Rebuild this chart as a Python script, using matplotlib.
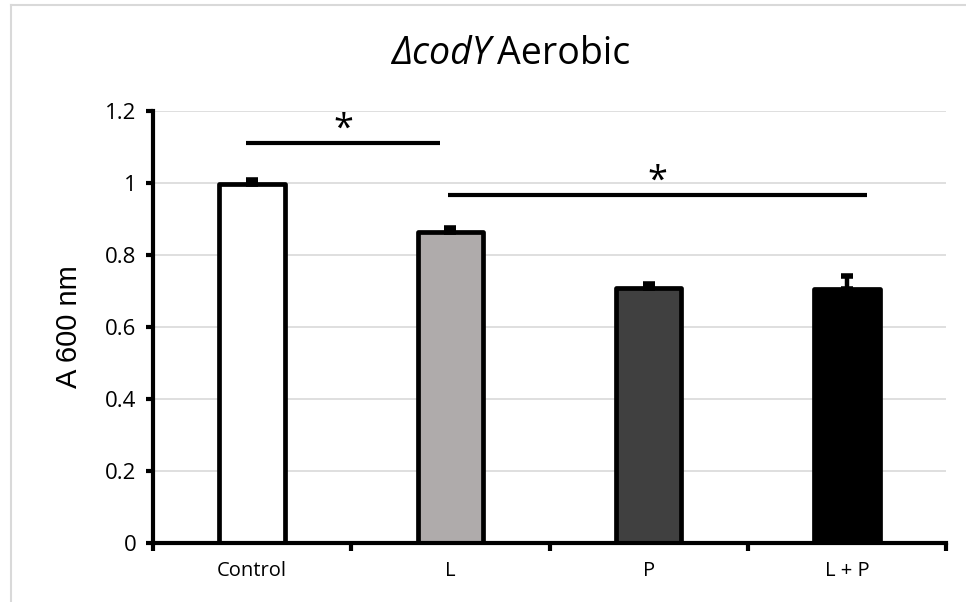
import numpy as np
import matplotlib.pyplot as plt
from matplotlib.lines import Line2D

# A600 readings for the codY deletion strain, aerobic growth
groups = ['Control', 'L', 'P', 'L + P']
means = [0.997, 0.862, 0.707, 0.705]
errs = [0.010, 0.013, 0.012, 0.036]
colors = ['#ffffff', '#afabab', '#404040', '#000000']

# significance brackets: (x start, x end, height)
sig_bars = [(-0.03, 0.95, 1.111), (0.99, 3.10, 0.967)]

plt.rcParams['font.family'] = ['Open Sans', 'DejaVu Sans']

fig = plt.figure(figsize=(9.66, 6.02), dpi=100)
ax = fig.add_axes([0.1584, 0.0985, 0.8209, 0.7176])

x = np.arange(len(groups))
ax.bar(x, means, width=0.33, color=colors, edgecolor='black', linewidth=3.4,
       joinstyle='round', zorder=3)
ax.errorbar(x, means, yerr=[np.zeros(len(errs)), errs], fmt='none',
            ecolor='black', elinewidth=3.2, capsize=4.5, capthick=4, zorder=4)

for x0, x1, h in sig_bars:
    ax.plot([x0, x1], [h, h], color='black', lw=3, solid_capstyle='butt', zorder=4)
    ax.text((x0 + x1) / 2, h + 0.037, '*', ha='center', va='center',
            fontsize=26)

ax.set_xlim(-0.5, 3.5)
ax.set_ylim(0, 1.2)
ax.set_yticks(np.arange(0, 1.21, 0.2))
ax.set_yticklabels(['0', '0.2', '0.4', '0.6', '0.8', '1', '1.2'], fontsize=16)
ax.set_xticks(x)
ax.set_xticklabels(groups, fontsize=14.5)
ax.set_xticks(np.arange(-0.5, 3.6, 1), minor=True)
ax.tick_params(axis='x', which='major', length=0, pad=13)
ax.tick_params(axis='x', which='minor', length=6, width=3, direction='out')
ax.tick_params(axis='y', length=5, width=3, direction='out', pad=7)

ax.grid(axis='y', color='#d9d9d9', lw=1.2, zorder=0)
ax.set_axisbelow(True)
for side in ['top', 'right']:
    ax.spines[side].set_visible(False)
for side in ['left', 'bottom']:
    ax.spines[side].set_linewidth(3)
    ax.spines[side].set_zorder(5)

ax.set_ylabel('A 600 nm', fontsize=21, family='Liberation Sans', labelpad=16)
fig.text(0.508, 0.91, 'ΔcodY', ha='right', va='center', fontsize=27, style='italic')
fig.text(0.515, 0.91, 'Aerobic', ha='left', va='center', fontsize=27)

# thin frame around the chart area
fig.add_artist(Line2D([11 / 966, 11 / 966], [0, 1 - 5 / 602], color='#d9d9d9', lw=1.5))
fig.add_artist(Line2D([11 / 966, 1], [1 - 5 / 602, 1 - 5 / 602], color='#d9d9d9', lw=1.5))

fig.savefig('out.png', dpi=100)
